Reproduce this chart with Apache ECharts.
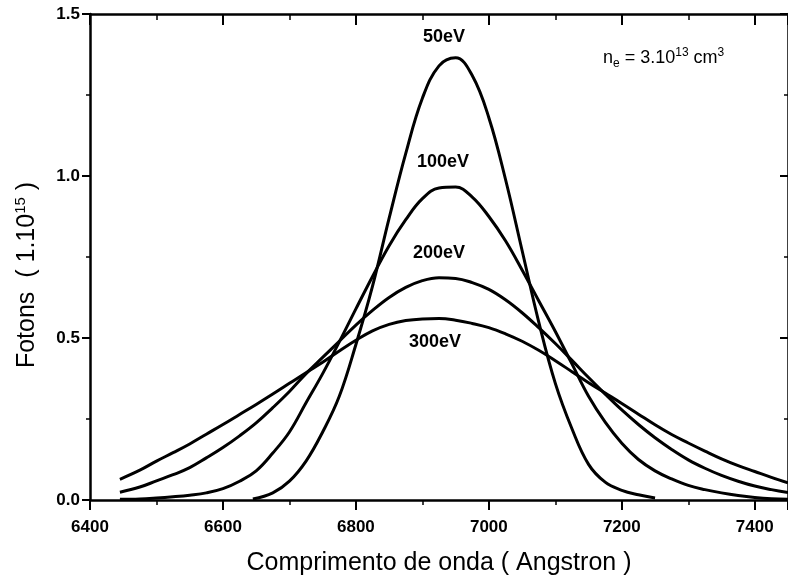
<!DOCTYPE html>
<html>
<head>
<meta charset="utf-8">
<script src="https://cdn.jsdelivr.net/npm/echarts@6/dist/echarts.min.js"></script>
<style>
html, body { margin: 0; padding: 0; background: #fff; }
#chart { width: 788px; height: 581px; }
</style>
</head>
<body>
<div id="chart"></div>
<script>
// curvas (comprimento de onda em Angstron, fotons em 1e15)
var wl50 = [6645, 6675, 6700, 6725, 6750, 6775, 6800, 6825, 6850, 6875, 6900, 6925, 6950, 6975, 7000, 7025, 7050, 7075, 7100, 7125, 7150, 7175, 7200, 7225, 7250];
var v50  = [0.003, 0.022, 0.058, 0.12, 0.21, 0.32, 0.48, 0.66, 0.87, 1.07, 1.24, 1.34, 1.365, 1.31, 1.18, 0.99, 0.77, 0.55, 0.36, 0.22, 0.11, 0.055, 0.03, 0.016, 0.006];

var wl100 = [6445, 6475, 6500, 6525, 6550, 6575, 6600, 6625, 6650, 6675, 6700, 6725, 6750, 6775, 6800, 6825, 6850, 6875, 6900, 6925, 6950, 6975, 7000, 7025, 7050, 7075, 7100, 7125, 7150, 7175, 7200, 7225, 7250, 7275, 7300, 7325, 7350, 7375, 7400, 7425, 7450];
var v100  = [0.002, 0.003, 0.006, 0.01, 0.015, 0.022, 0.035, 0.058, 0.09, 0.145, 0.21, 0.30, 0.39, 0.488, 0.59, 0.69, 0.785, 0.865, 0.93, 0.963, 0.966, 0.935, 0.875, 0.80, 0.71, 0.615, 0.52, 0.42, 0.32, 0.24, 0.175, 0.125, 0.09, 0.065, 0.045, 0.032, 0.022, 0.014, 0.008, 0.004, 0.002];

var wl200 = [6445, 6475, 6500, 6525, 6550, 6575, 6600, 6625, 6650, 6675, 6700, 6725, 6750, 6775, 6800, 6825, 6850, 6875, 6900, 6925, 6950, 6975, 7000, 7025, 7050, 7075, 7100, 7125, 7150, 7175, 7200, 7225, 7250, 7275, 7300, 7325, 7350, 7375, 7400, 7425, 7450];
var v200  = [0.024, 0.04, 0.059, 0.078, 0.10, 0.13, 0.162, 0.198, 0.238, 0.285, 0.335, 0.39, 0.44, 0.49, 0.54, 0.585, 0.625, 0.656, 0.677, 0.686, 0.684, 0.671, 0.65, 0.618, 0.578, 0.532, 0.483, 0.431, 0.378, 0.327, 0.278, 0.233, 0.192, 0.156, 0.124, 0.098, 0.076, 0.058, 0.043, 0.032, 0.023];

var wl300 = [6445, 6475, 6500, 6525, 6550, 6575, 6600, 6625, 6650, 6675, 6700, 6725, 6750, 6775, 6800, 6825, 6850, 6875, 6900, 6925, 6950, 6975, 7000, 7025, 7050, 7075, 7100, 7125, 7150, 7175, 7200, 7225, 7250, 7275, 7300, 7325, 7350, 7375, 7400, 7425, 7450];
var v300  = [0.064, 0.092, 0.12, 0.146, 0.173, 0.203, 0.233, 0.264, 0.295, 0.327, 0.36, 0.393, 0.425, 0.46, 0.493, 0.522, 0.542, 0.554, 0.559, 0.560, 0.555, 0.545, 0.532, 0.513, 0.49, 0.462, 0.43, 0.396, 0.362, 0.33, 0.298, 0.265, 0.232, 0.202, 0.176, 0.151, 0.127, 0.106, 0.088, 0.07, 0.053];

var nomes = ['50eV', '100eV', '200eV', '300eV'];

function pares(xs, ys) {
  var out = [];
  for (var i = 0; i < xs.length; i++) out.push([xs[i], ys[i]]);
  return out;
}

function curva(nome, dados) {
  return {
    name: nome,
    type: 'line',
    smooth: 0.4,
    showSymbol: false,
    symbol: 'none',
    lineStyle: { color: '#000', width: 3 },
    data: dados
  };
}

var fonte = 'Liberation Sans, Arial, sans-serif';
var rotulo = { color: '#000', fontFamily: fonte, fontSize: 17, fontWeight: 'bold' };

var myChart = echarts.init(document.getElementById('chart'));
var option = {
  backgroundColor: '#fff',
  animation: false,
  grid: { left: 90, top: 14, width: 701, height: 489 },
  xAxis: [{
    type: 'value',
    min: 6400, max: 7450, interval: 200,
    position: 'bottom',
    name: 'Comprimento de onda ( Angstron )',
    nameLocation: 'middle',
    nameGap: 51,
    nameTextStyle: { color: '#000', fontFamily: fonte, fontSize: 25 },
    axisLine: { onZero: false, lineStyle: { color: '#000', width: 2.5 } },
    axisTick: { inside: false, length: 10, lineStyle: { color: '#000', width: 2 } },
    minorTick: { show: true, splitNumber: 2, length: 5, lineStyle: { color: '#000', width: 1.5 } },
    axisLabel: Object.assign({ margin: 19, showMaxLabel: false, formatter: function (v) { return String(v); } }, rotulo),
    splitLine: { show: false }
  }, {
    type: 'value',
    min: 6400, max: 7450, interval: 200,
    position: 'top',
    axisLine: { onZero: false, lineStyle: { color: '#000', width: 2.5 } },
    axisTick: { inside: true, length: 11, lineStyle: { color: '#000', width: 2 } },
    minorTick: { show: true, splitNumber: 2, length: 6, lineStyle: { color: '#000', width: 1.5 } },
    axisLabel: { show: false },
    splitLine: { show: false }
  }],
  yAxis: [{
    type: 'value',
    min: 0, max: 1.5, interval: 0.5,
    position: 'left',
    name: 'Fotons  ( 1.10{sup|15} )',
    nameLocation: 'middle',
    nameGap: 48,
    nameTextStyle: {
      color: '#000', fontFamily: fonte, fontSize: 25,
      padding: [0, 36, 0, 0],
      rich: { sup: { fontFamily: fonte, fontSize: 15, verticalAlign: 'top', padding: [0, 0, 14, 0] } }
    },
    axisLine: { onZero: false, lineStyle: { color: '#000', width: 2.5 } },
    axisTick: { inside: false, length: 8, lineStyle: { color: '#000', width: 2 } },
    minorTick: { show: true, splitNumber: 2, length: 4, lineStyle: { color: '#000', width: 1.5 } },
    axisLabel: Object.assign({ margin: 10, formatter: function (v) { return v.toFixed(1); } }, rotulo),
    splitLine: { show: false }
  }, {
    type: 'value',
    min: 0, max: 1.5, interval: 0.5,
    position: 'right',
    axisLine: { onZero: false, lineStyle: { color: '#000', width: 2.5 } },
    axisTick: { inside: true, length: 8, lineStyle: { color: '#000', width: 2 } },
    minorTick: { show: true, splitNumber: 2, length: 4, lineStyle: { color: '#000', width: 1.5 } },
    axisLabel: { show: false },
    splitLine: { show: false }
  }],
  graphic: [
    { type: 'text', left: 423, top: 28, style: { text: nomes[0], font: 'bold 18px ' + fonte, fill: '#000' } },
    { type: 'text', left: 417, top: 153, style: { text: nomes[1], font: 'bold 18px ' + fonte, fill: '#000' } },
    { type: 'text', left: 413, top: 244, style: { text: nomes[2], font: 'bold 18px ' + fonte, fill: '#000' } },
    { type: 'text', left: 409, top: 333, style: { text: nomes[3], font: 'bold 18px ' + fonte, fill: '#000' } },
    { type: 'text', left: 603, top: 47, style: {
        text: 'n{sub|e} = 3.10{sup|13} cm{sup|3}',
        font: '18px ' + fonte, fill: '#000',
        rich: {
          sub: { fontSize: 12, fontFamily: fonte, padding: [12, 0, 0, 0] },
          sup: { fontSize: 12, fontFamily: fonte, padding: [0, 0, 10, 0] }
        }
    } }
  ],
  series: [
    curva(nomes[0], pares(wl50, v50)),
    curva(nomes[1], pares(wl100, v100)),
    curva(nomes[2], pares(wl200, v200)),
    curva(nomes[3], pares(wl300, v300))
  ]
};
myChart.setOption(option);
</script>
</body>
</html>
